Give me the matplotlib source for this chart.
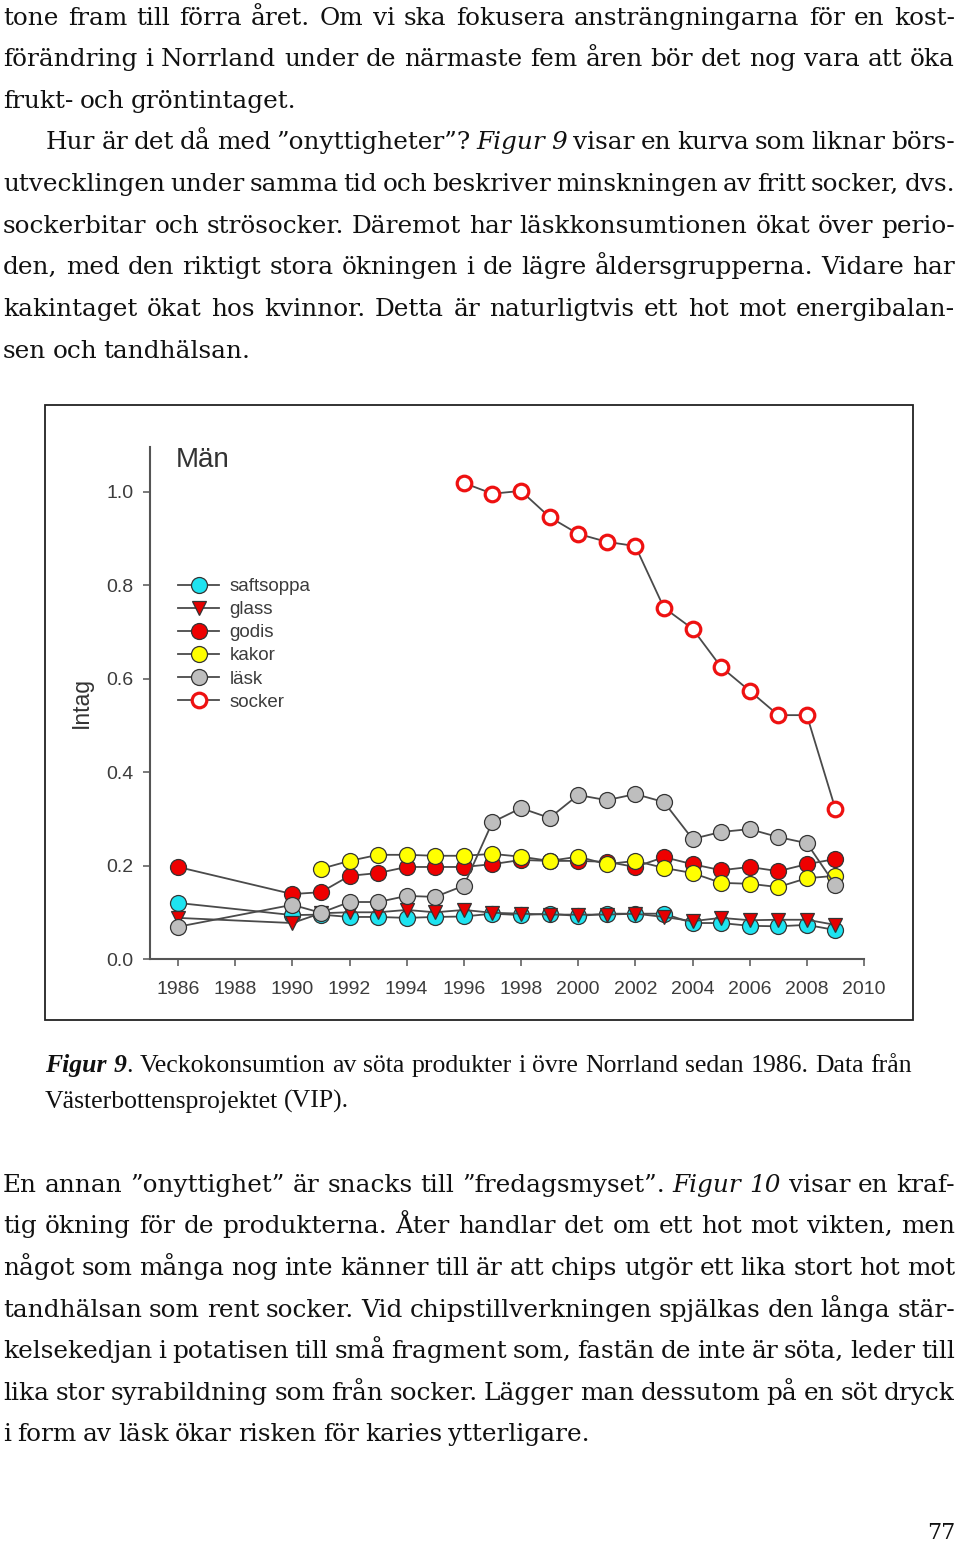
import matplotlib
matplotlib.use('Agg')
import matplotlib.pyplot as plt
from matplotlib.patches import Rectangle

# ---- data (Män) ----
years = [1986, 1990, 1991, 1992, 1993, 1994, 1995, 1996, 1997, 1998, 1999,
         2000, 2001, 2002, 2003, 2004, 2005, 2006, 2007, 2008, 2009]
years_kakor = years[2:]
years_socker = years[7:]

saftsoppa = [0.120, 0.094, 0.095, 0.090, 0.090, 0.088, 0.090, 0.091, 0.097, 0.094, 0.097,
             0.092, 0.097, 0.097, 0.097, 0.077, 0.077, 0.071, 0.070, 0.073, 0.062]
glass = [0.088, 0.077, 0.098, 0.100, 0.100, 0.105, 0.100, 0.105, 0.099, 0.097, 0.095,
         0.095, 0.095, 0.097, 0.090, 0.081, 0.088, 0.083, 0.084, 0.084, 0.073]
godis = [0.197, 0.139, 0.143, 0.178, 0.184, 0.197, 0.197, 0.197, 0.203, 0.212, 0.210,
         0.210, 0.208, 0.197, 0.218, 0.203, 0.190, 0.197, 0.188, 0.203, 0.214]
kakor = [0.193, 0.210, 0.223, 0.223, 0.221, 0.221, 0.225, 0.219, 0.210,
         0.219, 0.203, 0.210, 0.195, 0.184, 0.163, 0.161, 0.154, 0.173, 0.178]
lask = [0.069, 0.116, 0.099, 0.122, 0.122, 0.135, 0.133, 0.157, 0.293, 0.323, 0.302,
        0.351, 0.340, 0.353, 0.336, 0.257, 0.272, 0.278, 0.261, 0.248, 0.158]
socker = [1.019, 0.996, 1.002, 0.946, 0.910, 0.893, 0.884,
          0.752, 0.707, 0.625, 0.574, 0.522, 0.522, 0.321]

xticks = list(range(1986, 2011, 2))
yticks = [0.0, 0.2, 0.4, 0.6, 0.8, 1.0]

# ---- page text ----
top_lines = [
    "tone fram till förra året. Om vi ska fokusera ansträngningarna för en kost-",
    "förändring i Norrland under de närmaste fem åren bör det nog vara att öka",
    "frukt- och gröntintaget.",
    "Hur är det då med ”onyttigheter”? *Figur 9* visar en kurva som liknar börs-",
    "utvecklingen under samma tid och beskriver minskningen av fritt socker, dvs.",
    "sockerbitar och strösocker. Däremot har läskkonsumtionen ökat över perio-",
    "den, med den riktigt stora ökningen i de lägre åldersgrupperna. Vidare har",
    "kakintaget ökat hos kvinnor. Detta är naturligtvis ett hot mot energibalan-",
    "sen och tandhälsan.",
]
top_justify = [True, True, False, True, True, True, True, True, False]
top_indent = [0, 0, 0, 43, 0, 0, 0, 0, 0]

bottom_lines = [
    "En annan ”onyttighet” är snacks till ”fredagsmyset”. *Figur 10* visar en kraf-",
    "tig ökning för de produkterna. Åter handlar det om ett hot mot vikten, men",
    "något som många nog inte känner till är att chips utgör ett lika stort hot mot",
    "tandhälsan som rent socker. Vid chipstillverkningen spjälkas den långa stär-",
    "kelsekedjan i potatisen till små fragment som, fastän de inte är söta, leder till",
    "lika stor syrabildning som från socker. Lägger man dessutom på en söt dryck",
    "i form av läsk ökar risken för karies ytterligare.",
]
bottom_justify = [True, True, True, True, True, True, False]

caption_lines = [
    "*Figur 9*. Veckokonsumtion av söta produkter i övre Norrland sedan 1986. Data från",
    "Västerbottensprojektet (VIP).",
]
caption_justify = [True, False]

fig = plt.figure(figsize=(9.6, 15.43), dpi=100)
page = fig.add_axes([0, 0, 1, 1])
page.set_xlim(0, 960)
page.set_ylim(1543, 0)
page.axis('off')
renderer = fig.canvas.get_renderer()


def measure(s, size, family, style='normal', weight='normal'):
    t = page.text(0, 0, s, fontsize=size, family=family, style=style, weight=weight)
    w = t.get_window_extent(renderer).width
    t.remove()
    return w


def split_words(line):
    words = [[]]
    for i, part in enumerate(line.split('*')):
        emph = i % 2 == 1
        for k, p in enumerate(part.split(' ')):
            if k > 0:
                words.append([])
            if p:
                words[-1].append((p, emph))
    return [w for w in words if w]


def word_width(word, size, family, emph_kw):
    total = 0
    for txt, emph in word:
        kw = emph_kw if emph else {}
        total += measure(txt, size, family, **kw)
    return total


def space_width(size, family):
    return measure('n n', size, family) - measure('nn', size, family)


def fit_size(lines, justify, indents, x0, x1, family, emph_kw, max_size, squeeze):
    # largest size at which every justified line fits with spaces squeezed to `squeeze`
    size = max_size
    for line, j, ind in zip(lines, justify, indents):
        if j:
            words = split_words(line)
            nat = sum(word_width(w, 10, family, emph_kw) for w in words)
            nat += squeeze * space_width(10, family) * (len(words) - 1)
            size = min(size, 10 * (x1 - x0 - ind) / nat)
    return size


def draw_line(line, x0, x1, y, size, family, emph_kw, justify, color='#111111'):
    words = split_words(line)
    widths = [word_width(w, size, family, emph_kw) for w in words]
    if justify and len(words) > 1:
        gap = (x1 - x0 - sum(widths)) / (len(words) - 1)
    else:
        gap = 0.8 * space_width(size, family)
    x = x0
    for w, wd in zip(words, widths):
        xx = x
        for txt, emph in w:
            kw = emph_kw if emph else {}
            page.text(xx, y, txt, fontsize=size, family=family, va='baseline',
                      ha='left', color=color, **kw)
            xx += measure(txt, size, family, **kw)
        x += wd + gap


body_font = 'DejaVu Serif'
italic_kw = {'style': 'italic'}
body_size = fit_size(top_lines + bottom_lines, top_justify + bottom_justify,
                     top_indent + [0] * len(bottom_lines), 3, 955, body_font, italic_kw,
                     21.4, 0.62)

top_base = [25, 66, 108, 149, 191, 233, 274, 316, 358]
for line, j, ind, yb in zip(top_lines, top_justify, top_indent, top_base):
    draw_line(line, 3 + ind, 955, yb, body_size, body_font, italic_kw, j)

bottom_base = [1192, 1233, 1275, 1317, 1358, 1400, 1441]
for line, j, yb in zip(bottom_lines, bottom_justify, bottom_base):
    draw_line(line, 3, 955, yb, body_size, body_font, italic_kw, j)

cap_font = 'Liberation Serif'
bold_it_kw = {'style': 'italic', 'weight': 'bold'}
cap_size = fit_size(caption_lines, caption_justify, [0, 0], 45, 912, cap_font, bold_it_kw,
                    18.5, 0.9)
for line, j, yb in zip(caption_lines, caption_justify, [1072, 1108]):
    draw_line(line, 45, 912, yb, cap_size, cap_font, bold_it_kw, j)

page.text(955, 1539, "77", fontsize=16, family=body_font, ha='right', va='baseline', color='#111111')

# frame round the chart
page.add_patch(Rectangle((45, 405), 868, 615, fill=False, edgecolor='#222222', linewidth=1.3))

# ---- chart ----
ax = fig.add_axes([150 / 960, 1 - 959 / 1543, 714 / 960, 512 / 1543])
ax.set_xlim(1986 - 28 / 28.583, 2010)
ax.set_ylim(0, 1.096)

edge = '#333333'
line_kw = dict(color='#4a4a4a', linewidth=1.3, markeredgecolor=edge, markeredgewidth=0.9)
ax.plot(years, saftsoppa, marker='o', markersize=11.5, markerfacecolor='#1ee3f0',
        label='saftsoppa', **line_kw)
ax.plot(years, glass, marker='v', markersize=10.5, markerfacecolor='#e60000',
        label='glass', **line_kw)
ax.plot(years, godis, marker='o', markersize=11.5, markerfacecolor='#ee0000',
        label='godis', **line_kw)
ax.plot(years_kakor, kakor, marker='o', markersize=11.5, markerfacecolor='#ffff00',
        label='kakor', **line_kw)
ax.plot(years, lask, marker='o', markersize=11.5, markerfacecolor='#bebebe',
        label='läsk', **line_kw)
ax.plot(years_socker, socker, marker='o', markersize=10.5, color='#4a4a4a', linewidth=1.3,
        markerfacecolor='white', markeredgecolor='#ee1111', markeredgewidth=2.3,
        label='socker')

for s in ['top', 'right']:
    ax.spines[s].set_visible(False)
for s in ['left', 'bottom']:
    ax.spines[s].set_color('#555555')
    ax.spines[s].set_linewidth(1.5)

ax.set_xticks(xticks)
ax.set_yticks(yticks)
ax.set_yticklabels([f"{v:.1f}" for v in yticks])
ax.tick_params(direction='out', length=5, width=1.1, color='#555555',
               labelsize=14, labelcolor='#3c3c3c')
ax.tick_params(axis='x', pad=11)
ax.tick_params(axis='y', pad=7)
for lab in ax.get_xticklabels() + ax.get_yticklabels():
    lab.set_family('Liberation Sans')

fig.text(81 / 960, 1 - 702 / 1543, "Intag", rotation=90, fontsize=16.5, family='Liberation Sans',
         color='#333333', ha='center', va='center')
fig.text(176 / 960, 1 - 460 / 1543, "Män", fontsize=20, family='Liberation Sans',
         color='#333333', ha='left', va='center')

ax.legend(loc='upper left', bbox_to_anchor=(178 / 960, 1 - 578 / 1543),
          bbox_transform=fig.transFigure, frameon=False, borderpad=0, borderaxespad=0,
          prop={'family': 'Liberation Sans', 'size': 13.5}, labelcolor='#3c3c3c',
          handlelength=2.2, handletextpad=0.55, labelspacing=0.32)

fig.savefig('out.png', dpi=100)
